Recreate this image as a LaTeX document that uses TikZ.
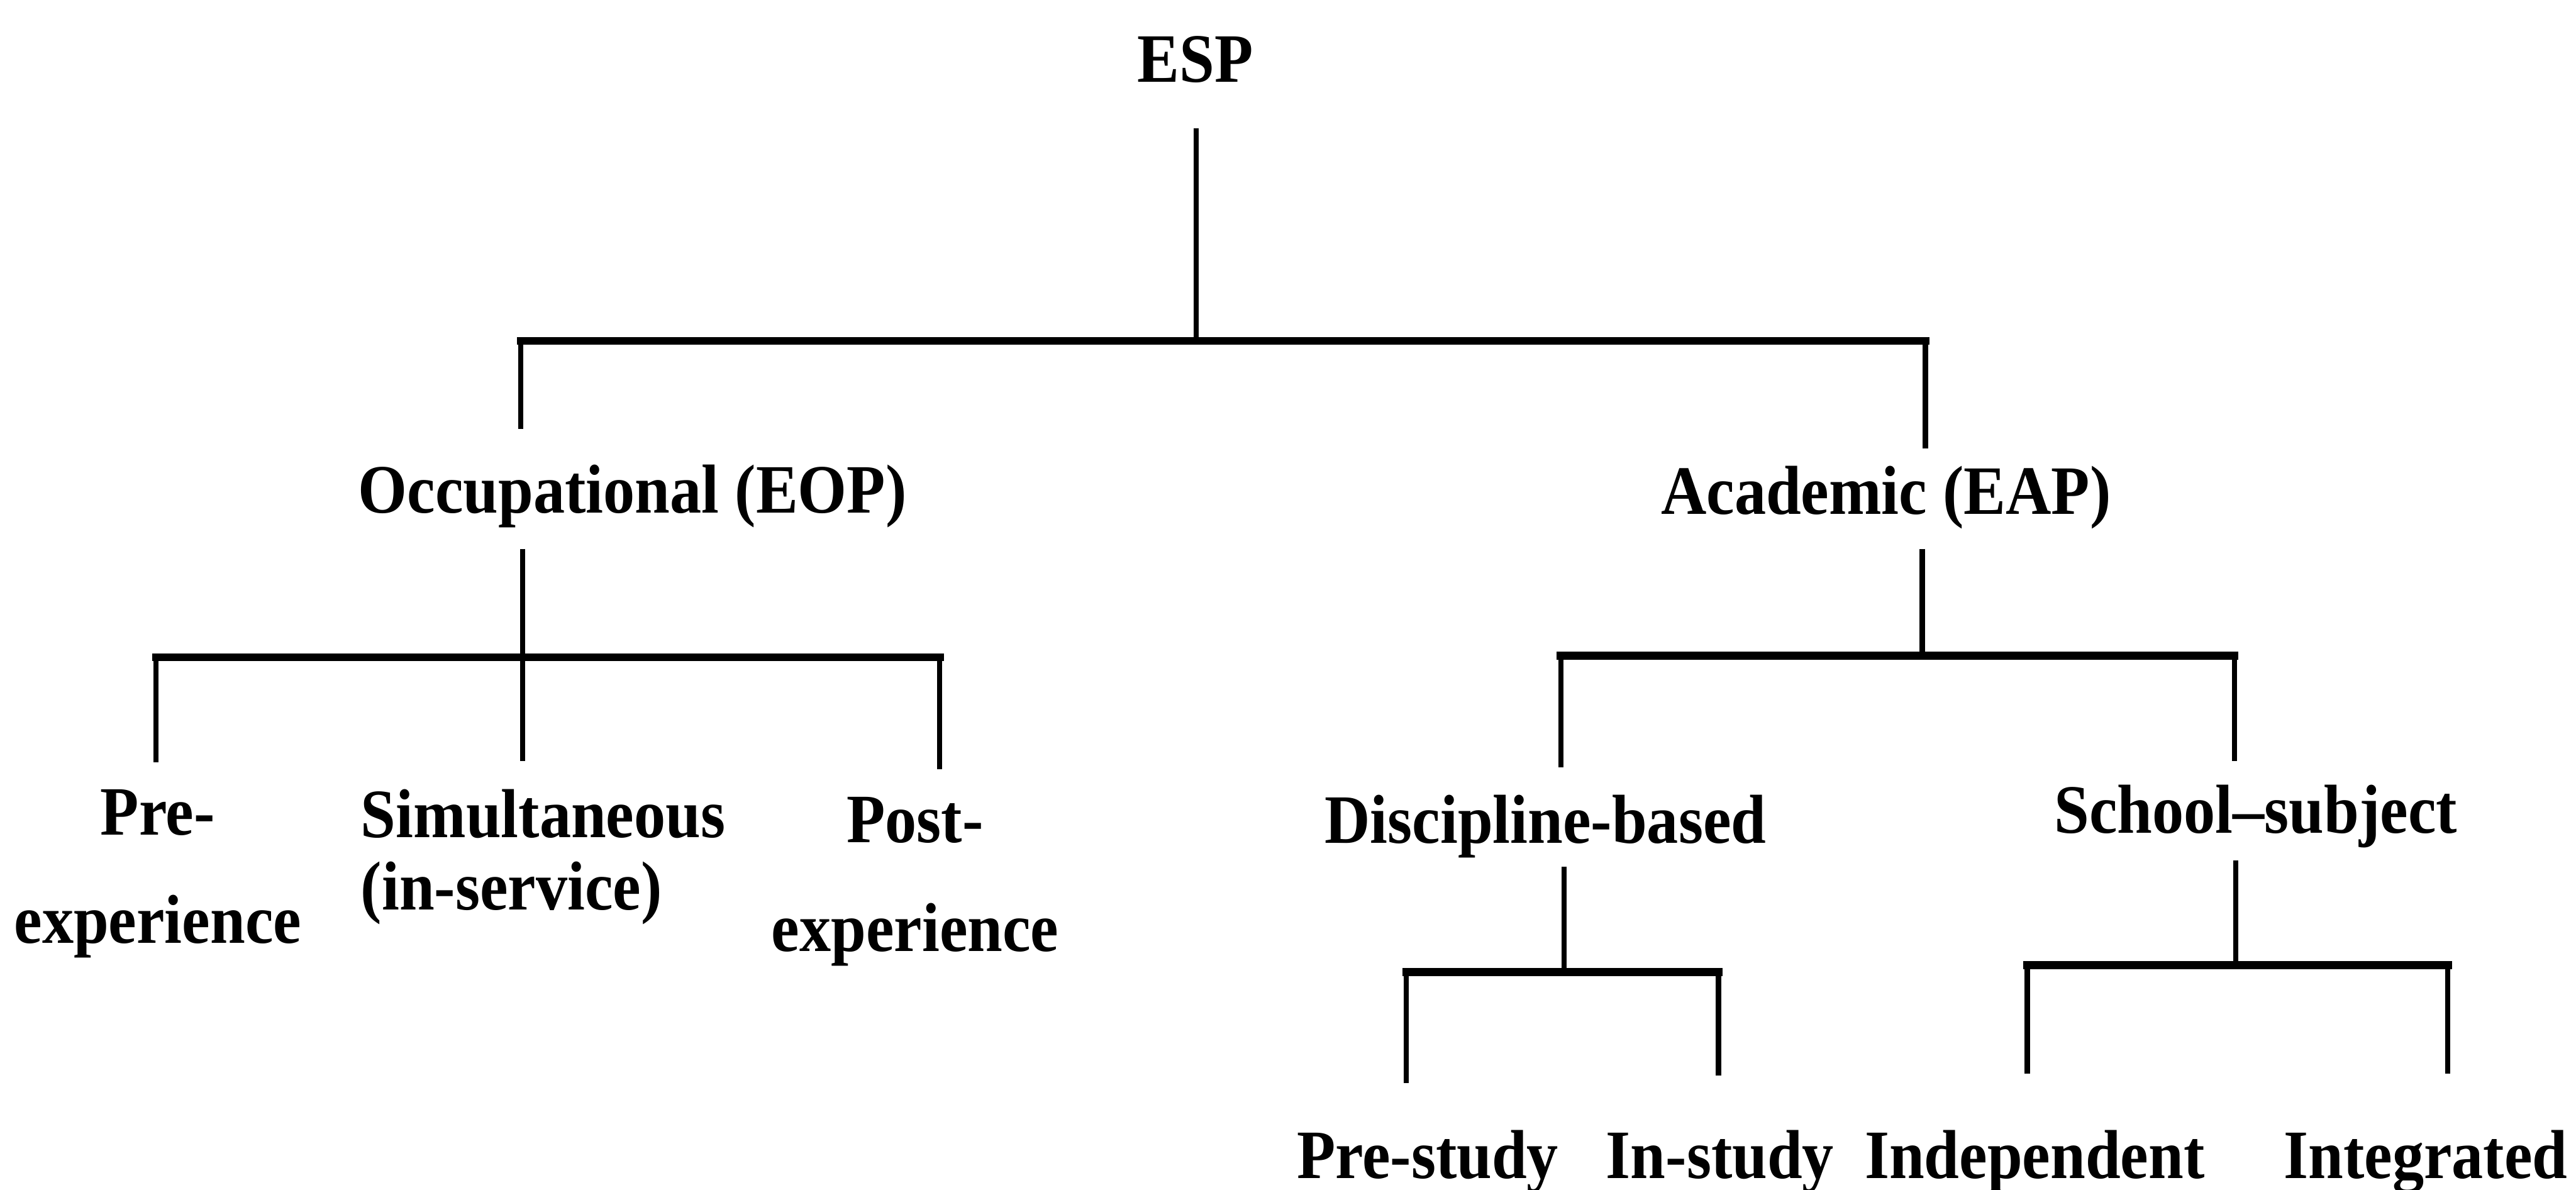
\documentclass[tikz,border=0pt]{standalone}
\usepackage{fontspec}
\setmainfont{Liberation Serif}[FakeStretch=0.91]
\begin{document}
\begin{tikzpicture}[
    lbl/.style={inner sep=0pt, anchor=base, font=\bfseries\fontsize{12}{14.4}\selectfont},
    stem/.style={line width=0.9pt},
    bar/.style={line width=1.4pt, line cap=rect}
]
        \useasboundingbox (0,0) rectangle (15.68,-7.24);

        % top level
        \node[lbl] (esp) at (7.275,-0.50) {ESP};
        \coordinate (esp-d) at (7.28,-0.78);
        \coordinate (top-l) at (3.17,-2.075);
        \coordinate (top-r) at (11.72,-2.075);
        \coordinate (occ-u) at (3.17,-2.61);
        \coordinate (aca-u) at (11.72,-2.73);
        \draw[stem] (esp-d) -- (esp-d |- top-l);
        \draw[bar] (top-l) -- (top-r);
        \draw[stem] (top-l) -- (occ-u);
        \draw[stem] (top-r) -- (aca-u);

        \node[lbl] (occ) at (3.85,-3.12) {Occupational (EOP)};
        \node[lbl] (aca) at (11.48,-3.13) {Academic (EAP)};

        % occupational branch
        \coordinate (occ-d) at (3.18,-3.34);
        \coordinate (eop-l) at (0.95,-4.00);
        \coordinate (eop-r) at (5.72,-4.00);
        \coordinate (pre-u) at (0.95,-4.64);
        \coordinate (sim-u) at (3.18,-4.63);
        \coordinate (post-u) at (5.72,-4.68);
        \draw[stem] (occ-d) -- (occ-d |- eop-l);
        \draw[bar] (eop-l) -- (eop-r);
        \draw[stem] (eop-l) -- (pre-u);
        \draw[stem] (occ-d |- eop-l) -- (sim-u);
        \draw[stem] (eop-r) -- (post-u);

        \node[lbl, align=center] (pre) at (0.96,-5.74) {Pre-\\[4.3pt]experience};
        \node[lbl, align=left, anchor=base west] (sim) at (2.19,-5.538) {Simultaneous\\[-1.8pt](in-service)};
        \node[lbl, align=center] (post) at (5.57,-5.79) {Post-\\[4.4pt]experience};

        % academic branch
        \coordinate (aca-d) at (11.70,-3.34);
        \coordinate (eap-l) at (9.50,-3.99);
        \coordinate (eap-r) at (13.60,-3.99);
        \coordinate (dis-u) at (9.50,-4.67);
        \coordinate (sch-u) at (13.60,-4.63);
        \draw[stem] (aca-d) -- (aca-d |- eap-l);
        \draw[bar] (eap-l) -- (eap-r);
        \draw[stem] (eap-l) -- (dis-u);
        \draw[stem] (eap-r) -- (sch-u);

        \node[lbl] (dis) at (9.407,-5.13) {Discipline-based};
        \node[lbl] (sch) at (13.73,-5.07) {School--subject};

        \coordinate (dis-d) at (9.52,-5.274);
        \coordinate (dsb-l) at (8.56,-5.915);
        \coordinate (dsb-r) at (10.46,-5.915);
        \coordinate (pst-u) at (8.56,-6.593);
        \coordinate (ist-u) at (10.46,-6.545);
        \draw[stem] (dis-d) -- (dis-d |- dsb-l);
        \draw[bar] (dsb-l) -- (dsb-r);
        \draw[stem] (dsb-l) -- (pst-u);
        \draw[stem] (dsb-r) -- (ist-u);

        \coordinate (sch-d) at (13.61,-5.238);
        \coordinate (scb-l) at (12.34,-5.875);
        \coordinate (scb-r) at (14.90,-5.875);
        \coordinate (ind-u) at (12.34,-6.533);
        \coordinate (int-u) at (14.90,-6.533);
        \draw[stem] (sch-d) -- (sch-d |- scb-l);
        \draw[bar] (scb-l) -- (scb-r);
        \draw[stem] (scb-l) -- (ind-u);
        \draw[stem] (scb-r) -- (int-u);

        \node[lbl] (pst) at (8.69,-7.17) {Pre-study};
        \node[lbl] (ist) at (10.47,-7.17) {In-study};
        \node[lbl] (ind) at (12.385,-7.17) {Independent};
        \node[lbl] (int) at (14.765,-7.17) {Integrated};
\end{tikzpicture}
\end{document}
